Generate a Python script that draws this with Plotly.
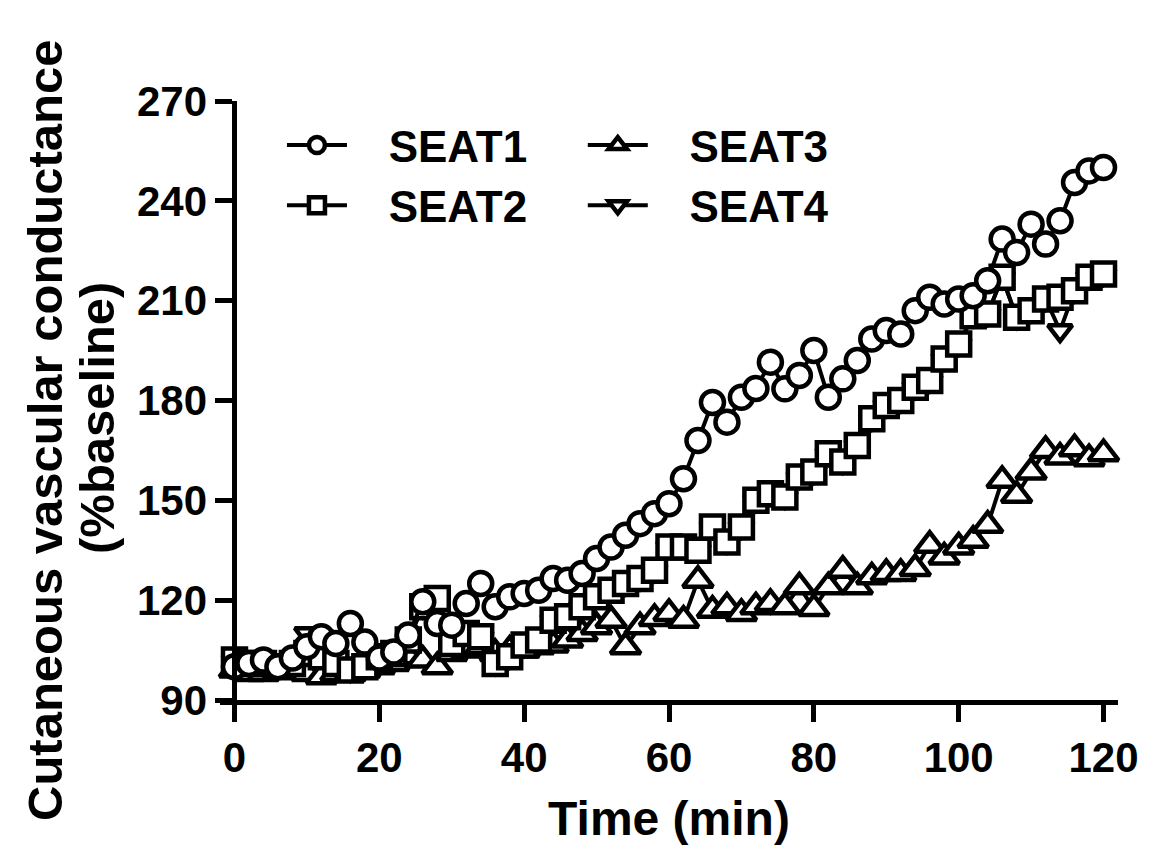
import plotly.graph_objects as go

time_min = list(range(0, 121, 2))

seat1 = [100, 101, 102, 100, 102.6, 106, 109, 107, 113, 107.4,
         102.6, 104.4, 109.5, 119.5, 113, 112.5, 119, 125, 118, 121,
         122, 123, 126.5, 126, 128, 132.5, 136, 139.5, 143, 146,
         149, 156.5, 168, 179.4, 173.5, 181, 183.6, 191.5, 183.5, 187.5,
         195, 181, 186.5, 192, 198.5, 201, 200, 207, 211, 209,
         210.5, 211.5, 216, 228.5, 224.5, 233, 227, 234, 245.5, 249,
         250]
seat2 = [102, 101, 101, 100, 101, 104, 103, 101, 99, 100,
         103, 104, 108, 118, 120.5, 107, 110, 109, 101, 103,
         106.5, 108, 114, 115, 118, 121, 123, 125, 126.5, 129,
         136, 136, 135, 142, 137.5, 142, 150, 152, 151, 157,
         158.5, 164, 161.5, 166.5, 174.5, 178.5, 180, 184, 186, 192.5,
         197, 205.5, 206, 217, 205, 207, 210.5, 211, 213, 217,
         218]
seat3 = [99, 98, 98, 99, 99, 98, 97, 98, 98, 99,
         100, 101, 103, 102, 100, 104, 105, 106, 104, 105,
         105, 106, 106.5, 108, 110, 112, 114, 106, 112, 114.5,
         116, 114, 126, 117, 118, 116, 118, 119, 118, 124,
         117.5, 124, 129, 124, 127, 128, 128, 129.5, 136.5, 133,
         136, 138, 142.5, 156, 151.5, 158.5, 165, 163, 165.5, 162.5,
         164]
seat4 = [102, 101, 101, 100, 101, 110, 109, 101, 99, 100,
         103, 104, 108, 118, 120.5, 107, 110, 109, 101, 103,
         106.5, 108, 114, 115, 118, 121, 123, 125, 126.5, 129,
         136, 136, 135, 142, 137.5, 142, 150, 152, 151, 157,
         158.5, 164, 161.5, 166.5, 174.5, 178.5, 180, 184, 186, 192.5,
         197, 205.5, 206, 217, 205, 207, 210.5, 201, 213, 217,
         218]

series_names = ["SEAT1", "SEAT2", "SEAT3", "SEAT4"]
series_values = [seat1, seat2, seat3, seat4]
symbols = ["circle", "square", "triangle-up", "triangle-down"]
sizes = [23, 23, 26, 21]
legends = ["legend", "legend", "legend2", "legend2"]

FONT = "Liberation Sans, Arial, Helvetica, sans-serif"
PAD = "\u00a0\u00a0\u00a0"

fig = go.Figure()
# first data set drawn in front (Prism style) -> add in reverse order
for i in reversed(range(4)):
    fig.add_trace(go.Scatter(
        x=time_min, y=series_values[i], name=PAD + series_names[i],
        mode="lines+markers",
        line=dict(color="black", width=4),
        marker=dict(symbol=symbols[i], size=sizes[i], color="white",
                    line=dict(color="black", width=4.5)),
        legend=legends[i], legendrank=i,
        cliponaxis=False,
    ))

axis_font = dict(family=FONT, size=42, color="black", weight="bold")
leg_font = dict(family=FONT, size=44, color="black", weight="bold")
title_font = dict(family=FONT, size=49, color="black", weight="bold")

fig.update_layout(
    width=1150, height=849,
    margin=dict(l=220, r=32, t=101, b=149),
    paper_bgcolor="white", plot_bgcolor="white",
    showlegend=True,
    legend=dict(x=0.069, y=0.985, xanchor="left", yanchor="top",
                font=leg_font, bgcolor="rgba(0,0,0,0)", itemwidth=60,
                tracegroupgap=0, traceorder="normal"),
    legend2=dict(x=0.404, y=0.985, xanchor="left", yanchor="top",
                 font=leg_font, bgcolor="rgba(0,0,0,0)", itemwidth=60,
                 tracegroupgap=0, traceorder="normal"),
    xaxis=dict(
        range=[-2, 122], tickmode="array", tickvals=[0, 20, 40, 60, 80, 100, 120],
        ticks="outside", ticklen=17, tickwidth=5, tickcolor="black",
        showline=True, linewidth=5, linecolor="black",
        showgrid=False, zeroline=False,
        tickfont=axis_font,
        title=dict(text="Time (min)", font=dict(family=FONT, size=48, color="black", weight="bold"),
                   standoff=22),
    ),
    yaxis=dict(
        range=[90, 270], tickmode="array", tickvals=[90, 120, 150, 180, 210, 240, 270],
        anchor="free", position=2/124,
        ticks="outside", ticklen=17, tickwidth=5, tickcolor="black",
        showline=True, linewidth=5, linecolor="black",
        showgrid=False, zeroline=False,
        tickfont=axis_font,
    ),
    annotations=[
        dict(text="Cutaneous vascular conductance", textangle=-90,
             xref="paper", yref="paper", x=(45 - 220) / 898, y=1 - (430 - 101) / 599,
             xanchor="center", yanchor="middle", showarrow=False, font=title_font),
        dict(text="(%baseline)", textangle=-90,
             xref="paper", yref="paper", x=(97 - 220) / 898, y=1 - (418 - 101) / 599,
             xanchor="center", yanchor="middle", showarrow=False, font=title_font),
    ],
)

fig.write_html("out.html")
